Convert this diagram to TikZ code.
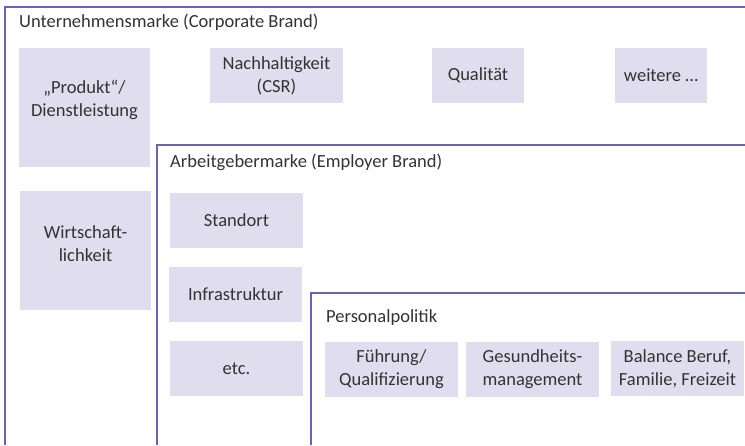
\documentclass[tikz,border=0pt]{standalone}
\usepackage{fontspec}
\setmainfont{Carlito}
\definecolor{boxfill}{HTML}{E0DEEE}
\definecolor{frame}{HTML}{6664B4}
\definecolor{txt}{HTML}{333333}
\begin{document}
\begin{tikzpicture}[x=1pt,y=-1pt,
  bx/.style={fill=boxfill, draw=none, inner sep=0pt, text=txt, align=center, font=\fontsize{18.5}{23}\selectfont},
  lbl/.style={inner sep=0pt, text=txt, anchor=base west, font=\fontsize{18.5}{23}\selectfont},
  fr/.style={draw=frame, line width=1.2pt}]
\useasboundingbox (0,0) rectangle (745,445);
% frames
\coordinate (c1a) at (5,445); \coordinate (c1b) at (5,7); \coordinate (c1c) at (745,7);
\draw[fr] (c1a) -- (c1b) -- (c1c);
\coordinate (c2a) at (157,445); \coordinate (c2b) at (157,145); \coordinate (c2c) at (745,145);
\draw[fr] (c2a) -- (c2b) -- (c2c);
\coordinate (c3a) at (311,445); \coordinate (c3b) at (311,293); \coordinate (c3c) at (745,293);
\draw[fr] (c3a) -- (c3b) -- (c3c);
% labels
\node[lbl] (t1) at (19,27) {Unternehmensmarke (Corporate Brand)};
\node[lbl] (t2) at (170,167) {Arbeitgebermarke (Employer Brand)};
\node[lbl] (t3) at (326,322) {Personalpolitik};
% corporate boxes
\node[bx, minimum width=131, minimum height=119] (prod) at (84.5,107.5) {};
\node[bx, fill=none] (prodt) at (84.5,100) {„Produkt“/\\Dienstleistung};
\node[bx, minimum width=133, minimum height=55] (nach) at (276.5,75.5) {Nachhaltigkeit\\(CSR)};
\node[bx, minimum width=92, minimum height=55] (qual) at (478,75.5) {Qualität};
\node[bx, minimum width=92, minimum height=55] (weit) at (661,75.5) {weitere …};
\node[bx, minimum width=131, minimum height=119] (wirt) at (85.5,250.5) {};
\node[bx, fill=none] (wirtt) at (85.5,244) {Wirtschaft-\\lichkeit};
% employer boxes
\node[bx, minimum width=133, minimum height=55] (stand) at (236.5,220.5) {Standort};
\node[bx, minimum width=133, minimum height=55] (infra) at (235.5,294.5) {Infrastruktur};
\node[bx, minimum width=133, minimum height=55] (etc) at (236.5,368.5) {etc.};
% personal boxes
\node[bx, minimum width=133, minimum height=55] (fuehr) at (391.5,369.5) {Führung/\\Qualifizierung};
\node[bx, minimum width=133, minimum height=55] (ges) at (532.5,369.5) {Gesundheits-\\management};
\node[bx, minimum width=133, minimum height=55] (bal) at (677.5,368.5) {Balance Beruf,\\Familie, Freizeit};
\end{tikzpicture}
\end{document}
